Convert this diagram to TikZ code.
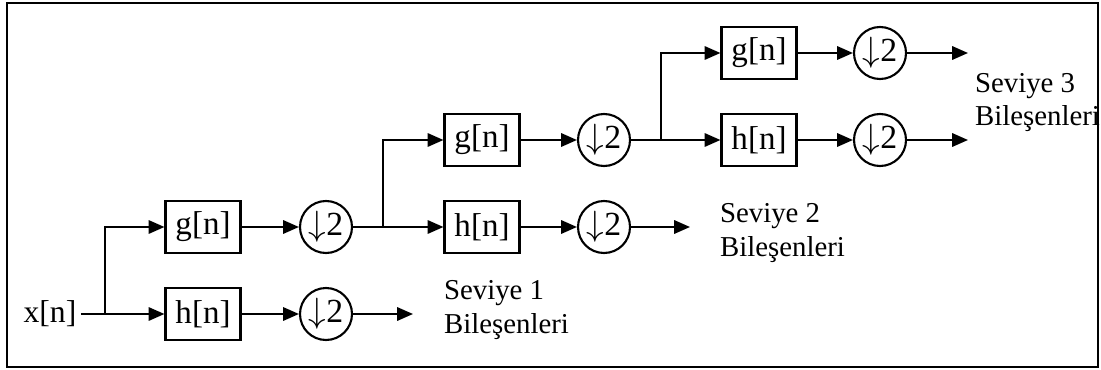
\documentclass[tikz,border=0pt]{standalone}
\usepackage{fontspec}
\setmainfont{Liberation Serif}
\usetikzlibrary{arrows.meta}

\begin{document}
\begin{tikzpicture}[line width = 0.6pt, >={Triangle[length=4.5pt, width=3.8pt]},
                      every node/.style = {font = \fontsize{8.2}{9.4}\selectfont},
                      filt/.style = {rectangle, draw, minimum width = 0.75cm, minimum height = 0.52cm, inner sep = 0pt, font = \fontsize{9.4}{10}\selectfont},
                      down/.style = {circle, draw, minimum size = 0.52cm, inner sep = 0pt, font = \fontsize{9.6}{10}\selectfont},
                      lvl/.style = {align = left, anchor = west, inner sep = 0pt}]
    \useasboundingbox (0, 0) rectangle (11.01, 3.69);
    \draw [line width = 0.8pt] (0.07, 0.02) rectangle (10.98, 3.66);

    % level 1
    \node [inner sep = 1pt, font = \fontsize{9}{10}\selectfont] (x) at (0.50, 0.55){x[n]};
    \node [filt] (g1) at (2.03, 1.42){g[n]};
    \node [filt] (h1) at (2.03, 0.55){h[n]};
    \node [down] (dg1) at (3.26, 1.42){$\downarrow$2};
    \node [down] (dh1) at (3.26, 0.55){$\downarrow$2};
    \coordinate (s1) at (1.05, 0.55);
    \coordinate (o1) at (4.13, 0.55);
    \node [lvl] (l1) at (4.43, 0.59){Seviye 1\\Bileşenleri};

    % level 2
    \node [filt] (g2) at (4.82, 2.29){g[n]};
    \node [filt] (h2) at (4.82, 1.42){h[n]};
    \node [down] (dg2) at (6.04, 2.29){$\downarrow$2};
    \node [down] (dh2) at (6.04, 1.42){$\downarrow$2};
    \coordinate (s2) at (3.83, 1.42);
    \coordinate (o2) at (6.90, 1.42);
    \node [lvl] (l2) at (7.19, 1.36){Seviye 2\\Bileşenleri};

    % level 3
    \node [filt] (g3) at (7.59, 3.16){g[n]};
    \node [filt] (h3) at (7.59, 2.29){h[n]};
    \node [down] (dg3) at (8.80, 3.16){$\downarrow$2};
    \node [down] (dh3) at (8.80, 2.29){$\downarrow$2};
    \coordinate (s3) at (6.61, 2.29);
    \coordinate (og3) at (9.68, 3.16);
    \coordinate (oh3) at (9.68, 2.29);
    \node [lvl] (l3) at (9.74, 2.66){Seviye 3\\Bileşenleri};

    \draw [->] (x) -- (h1);
    \draw [->] (s1) |- (g1);
    \draw [->] (g1) -- (dg1);
    \draw [->] (h1) -- (dh1);
    \draw [->] (dh1) -- (o1);

    \draw [->] (dg1) -- (h2);
    \draw [->] (s2) |- (g2);
    \draw [->] (g2) -- (dg2);
    \draw [->] (h2) -- (dh2);
    \draw [->] (dh2) -- (o2);

    \draw [->] (dg2) -- (h3);
    \draw [->] (s3) |- (g3);
    \draw [->] (g3) -- (dg3);
    \draw [->] (h3) -- (dh3);
    \draw [->] (dg3) -- (og3);
    \draw [->] (dh3) -- (oh3);
\end{tikzpicture}
\end{document}
